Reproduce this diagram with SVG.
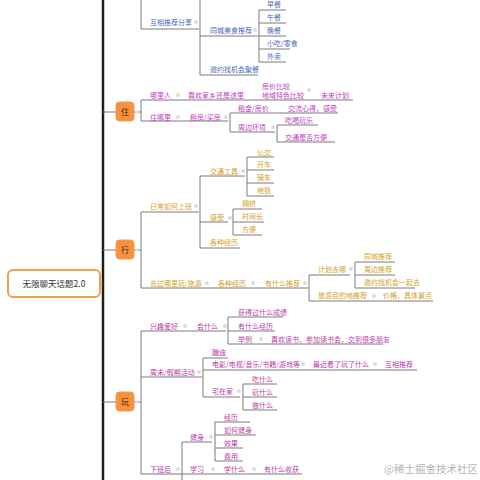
<svg xmlns="http://www.w3.org/2000/svg" width="480" height="480" viewBox="0 0 480 480">
<style>
text{font-family:"Noto Sans CJK SC","Noto Sans",sans-serif;font-size:7px}
.l{stroke:#7a7a7a;stroke-width:1;fill:none}
.b{fill:#4a6ab8}.m{fill:#c23cc4}.y{fill:#d4a020}.p{fill:#bc3aa8}
.c{fill:#dcdcdc}
.box{fill:#f7913d;stroke:#f39a4c;stroke-width:1}
.bt{fill:#4a2a12;font-size:8px;text-anchor:middle}
.rt{fill:#333;font-size:8.5px;text-anchor:middle}
.wm{fill:#b4b4b4;font-size:10.5px;text-anchor:end;font-family:"Noto Sans CJK SC",serif}
</style>
<rect width="480" height="480" fill="#fff"/>
<g id="connectors">
<line x1="103" y1="0" x2="103" y2="480" stroke="#1e1e1e" stroke-width="2.5"/>
<line x1="100" y1="284" x2="103" y2="284" class="l"/>
<line x1="103" y1="112" x2="116" y2="112" class="l"/>
<line x1="103" y1="250" x2="116" y2="250" class="l"/>
<line x1="103" y1="402" x2="116" y2="402" class="l"/>
<polyline points="141,0 141,29 199,29" class="l"/>
<polyline points="200,0 200,75 258,75" class="l"/>
<line x1="200" y1="36" x2="258" y2="36" class="l"/>
<polyline points="259,10 259,62 286,62" class="l"/>
<line x1="259" y1="10" x2="286" y2="10" class="l"/>
<line x1="259" y1="23" x2="286" y2="23" class="l"/>
<line x1="259" y1="36" x2="286" y2="36" class="l"/>
<line x1="259" y1="49" x2="290" y2="49" class="l"/>
<line x1="134" y1="112" x2="141" y2="112" class="l"/>
<polyline points="141,100 141,121 228,121" class="l"/>
<line x1="141" y1="100" x2="353" y2="100" class="l"/>
<polyline points="230,113 230,132 275,132" class="l"/>
<line x1="230" y1="113" x2="338" y2="113" class="l"/>
<polyline points="277,125 277,142 335,142" class="l"/>
<line x1="277" y1="125" x2="318" y2="125" class="l"/>
<line x1="134" y1="250" x2="141" y2="250" class="l"/>
<polyline points="141,212 141,288 308,288" class="l"/>
<line x1="141" y1="212" x2="199" y2="212" class="l"/>
<polyline points="200,176 200,248 240,248" class="l"/>
<line x1="200" y1="176" x2="245" y2="176" class="l"/>
<line x1="200" y1="222" x2="228" y2="222" class="l"/>
<polyline points="247,157 247,196 274,196" class="l"/>
<line x1="247" y1="157" x2="274" y2="157" class="l"/>
<line x1="247" y1="170" x2="274" y2="170" class="l"/>
<line x1="247" y1="183" x2="274" y2="183" class="l"/>
<polyline points="233,209 233,235 262,235" class="l"/>
<line x1="233" y1="209" x2="262" y2="209" class="l"/>
<line x1="233" y1="222" x2="264" y2="222" class="l"/>
<polyline points="309,275 309,301 433,301" class="l"/>
<line x1="309" y1="275" x2="350" y2="275" class="l"/>
<polyline points="355,262 355,288 415,288" class="l"/>
<line x1="355" y1="262" x2="395" y2="262" class="l"/>
<line x1="355" y1="275" x2="395" y2="275" class="l"/>
<line x1="134" y1="402" x2="141" y2="402" class="l"/>
<polyline points="141,331 141,474 302,474" class="l"/>
<line x1="141" y1="331" x2="226" y2="331" class="l"/>
<polyline points="228,317 228,344 383,344" class="l"/>
<line x1="228" y1="317" x2="283" y2="317" class="l"/>
<line x1="228" y1="331" x2="275" y2="331" class="l"/>
<line x1="141" y1="377" x2="202" y2="377" class="l"/>
<polyline points="203,358 203,397 240,397" class="l"/>
<line x1="203" y1="358" x2="228" y2="358" class="l"/>
<line x1="203" y1="370" x2="417" y2="370" class="l"/>
<polyline points="243,384 243,410 277,410" class="l"/>
<line x1="243" y1="384" x2="277" y2="384" class="l"/>
<line x1="243" y1="397" x2="277" y2="397" class="l"/>
<polyline points="182,480 182,442 212,442" class="l"/>
<polyline points="215,422 215,461 243,461" class="l"/>
<line x1="215" y1="422" x2="250" y2="422" class="l"/>
<line x1="215" y1="435" x2="256" y2="435" class="l"/>
<line x1="215" y1="448" x2="243" y2="448" class="l"/>
</g>
<g id="markers">
<circle cx="196" cy="22" r="2" class="c"/><circle cx="255" cy="30" r="2" class="c"/>
<circle cx="178" cy="95" r="2" class="c"/><circle cx="235" cy="95" r="2" class="c"/><circle cx="309" cy="90" r="2" class="c"/>
<circle cx="178" cy="117" r="2" class="c"/><circle cx="226" cy="117" r="2" class="c"/><circle cx="273" cy="127" r="2" class="c"/>
<circle cx="137" cy="112" r="1.8" class="c"/><circle cx="137" cy="250" r="1.8" class="c"/><circle cx="137" cy="402" r="1.8" class="c"/>
<circle cx="196" cy="206" r="2" class="c"/><circle cx="243" cy="171" r="2" class="c"/><circle cx="230" cy="218" r="2" class="c"/>
<circle cx="207" cy="283" r="2" class="c"/><circle cx="253" cy="283" r="2" class="c"/><circle cx="305" cy="283" r="2" class="c"/>
<circle cx="351" cy="269" r="2" class="c"/><circle cx="374" cy="296" r="2" class="c"/>
<circle cx="185" cy="326" r="2" class="c"/><circle cx="225" cy="326" r="2" class="c"/><circle cx="261" cy="339" r="2" class="c"/>
<circle cx="199" cy="372" r="2" class="c"/><circle cx="303" cy="364" r="2" class="c"/><circle cx="375" cy="364" r="2" class="c"/>
<circle cx="239" cy="391" r="2" class="c"/><circle cx="211" cy="437" r="2" class="c"/>
<circle cx="178" cy="469" r="2" class="c"/><circle cx="213" cy="469" r="2" class="c"/><circle cx="254" cy="469" r="2" class="c"/>
</g>
<g id="root">
<rect x="8" y="270" width="92" height="27" rx="5" fill="#fff" stroke="#f0a050" stroke-width="2"/>
<text x="54" y="287" class="rt">无限聊天话题2.0</text>
</g>
<g id="zhu"><rect x="116" y="102" width="18" height="19" rx="3.5" class="box"/><text x="125" y="115" class="bt">住</text></g>
<g id="xing"><rect x="116" y="240" width="18" height="19" rx="3.5" class="box"/><text x="125" y="253" class="bt">行</text></g>
<g id="wan"><rect x="116" y="392" width="18" height="19" rx="3.5" class="box"/><text x="125" y="405" class="bt">玩</text></g>
<g id="top-nodes" class="b">
<text x="150" y="25">互相推荐分享</text>
<text x="210" y="33">同城美食推荐</text>
<text x="267" y="7">早餐</text>
<text x="267" y="20">午餐</text>
<text x="267" y="33">晚餐</text>
<text x="267" y="46">小吃/零食</text>
<text x="267" y="59">外卖</text>
<text x="210" y="72">邀约找机会聚餐</text>
</g>
<g id="zhu-nodes" class="m">
<text x="150" y="98">哪里人</text>
<text x="188" y="98">喜欢家乡还是这里</text>
<text x="262" y="89">房价比较</text>
<text x="262" y="98">地域特色比较</text>
<text x="321" y="98">未来计划</text>
<text x="150" y="120">住哪里</text>
<text x="190" y="120">租房/买房</text>
<text x="238" y="111">租金/房价</text>
<text x="288" y="111">交流心得，感受</text>
<text x="238" y="130">周边环境</text>
<text x="285" y="123">吃喝玩乐</text>
<text x="285" y="140">交通是否方便</text>
</g>
<g id="xing-nodes" class="y">
<text x="150" y="209">日常如何上班</text>
<text x="210" y="174">交通工具</text>
<text x="257" y="155">公交</text>
<text x="257" y="167">开车</text>
<text x="257" y="180">骑车</text>
<text x="257" y="193">地铁</text>
<text x="210" y="220">感受</text>
<text x="242" y="206">拥挤</text>
<text x="242" y="219">时间长</text>
<text x="242" y="232">方便</text>
<text x="210" y="245">各种经历</text>
<text x="150" y="286">去过哪里玩/旅游</text>
<text x="218" y="286">各种经历</text>
<text x="265" y="286">有什么推荐</text>
<text x="318" y="272">计划去哪</text>
<text x="364" y="259">同城推荐</text>
<text x="364" y="272">周边推荐</text>
<text x="364" y="285">邀约找机会一起去</text>
<text x="318" y="298">旅游目的地推荐</text>
<text x="383" y="298">价格，具体景点</text>
</g>
<g id="wan-nodes" class="p">
<text x="150" y="329">兴趣爱好</text>
<text x="197" y="329">会什么</text>
<text x="238" y="315">获得过什么成绩</text>
<text x="238" y="329">有什么经历</text>
<text x="238" y="342">举例</text>
<text x="271" y="342">喜欢读书，参加读书会，交到很多朋友</text>
<text x="150" y="375">周末/假期活动</text>
<text x="212" y="355">蹦迪</text>
<text x="212" y="367">电影/电视/音乐/书籍/游戏等</text>
<text x="313" y="367">最近看了玩了什么</text>
<text x="385" y="367">互相推荐</text>
<text x="212" y="394">宅在家</text>
<text x="252" y="382">吃什么</text>
<text x="252" y="395">玩什么</text>
<text x="252" y="408">做什么</text>
<text x="190" y="440">健身</text>
<text x="224" y="420">经历</text>
<text x="224" y="433">如何健身</text>
<text x="224" y="446">效果</text>
<text x="224" y="459">费用</text>
<text x="150" y="472">下班后</text>
<text x="190" y="472">学习</text>
<text x="224" y="472">学什么</text>
<text x="264" y="472">有什么收获</text>
</g>
<text x="478" y="473" class="wm">@稀土掘金技术社区</text>
</svg>
